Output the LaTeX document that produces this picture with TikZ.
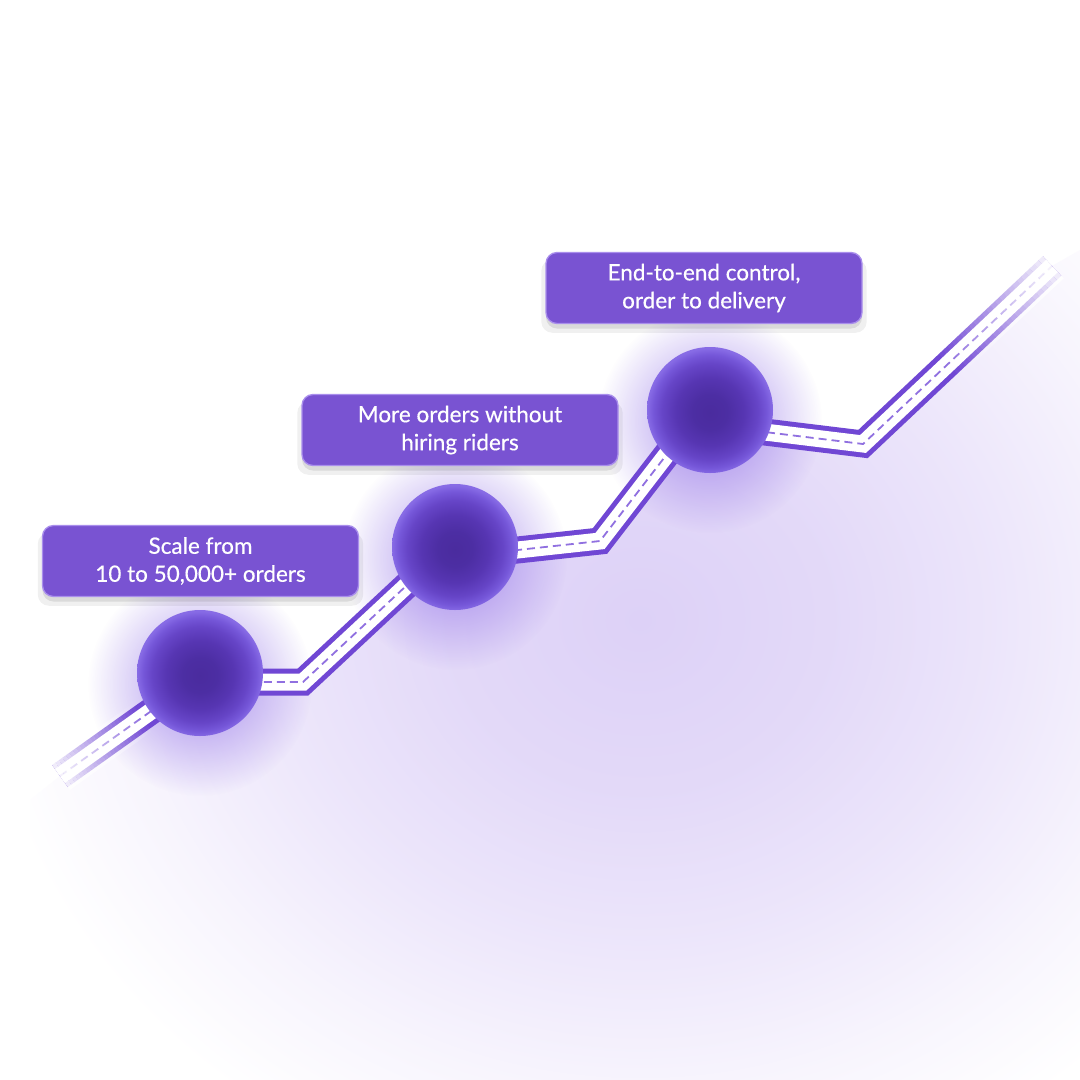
\documentclass[tikz,border=0pt]{standalone}
\usepackage{fontspec}
\setmainfont{Lato}
\newfontfamily\boxfont{Lato}[FakeBold=0.5]
\usetikzlibrary{fadings,calc,shadows}
\definecolor{boxfill}{HTML}{7953D2}
\definecolor{boxborder}{HTML}{A98EEC}
\definecolor{roadc}{HTML}{7047D4}
\definecolor{dashc}{HTML}{9070E0}
\definecolor{lav}{HTML}{DDD1F7}
\colorlet{lavA}{lav!82!white}
\colorlet{lavB}{lav!55!white}
\colorlet{lavC}{lav!22!white}
\definecolor{haloc}{HTML}{9474E8}
\pgfdeclareradialshading{ballshade}{\pgfpoint{0bp}{-1bp}}{rgb(0bp)=(0.29,0.17,0.62); rgb(7bp)=(0.30,0.18,0.64); rgb(13.5bp)=(0.34,0.21,0.70); rgb(19bp)=(0.40,0.27,0.78); rgb(22.5bp)=(0.46,0.34,0.85); rgb(25bp)=(0.53,0.42,0.90); rgb(50bp)=(0.53,0.42,0.90)}
\pgfdeclareradialshading{groundshade}{\pgfpoint{0bp}{0bp}}{color(0bp)=(lav); color(7bp)=(lavA); color(13bp)=(lavB); color(19bp)=(lavC); color(24bp)=(white); color(50bp)=(white)}
\tikzfading[name=halofade, inner color=transparent!0, outer color=transparent!100]
\tikzset{
  msg/.style={draw=boxborder, line width=1.3pt, fill=boxfill, rounded corners=11pt,
    text=white, align=center, minimum width=316pt, minimum height=71pt, inner sep=0pt,
    font=\boxfont\fontsize{22.5}{28}\selectfont,
    drop shadow={shadow xshift=0pt, shadow yshift=-8pt, opacity=.06, fill=black, shadow scale=1.03},
    drop shadow={shadow xshift=0pt, shadow yshift=-5pt, opacity=.09, fill=black, shadow scale=1.0}},
  ball/.style={circle, minimum size=126pt, inner sep=0pt, shading=ballshade},
  halo/.style={fill=haloc, opacity=.8, path fading=halofade},
  roadout/.style={draw=roadc, line width=27pt, line join=miter},
  roadin/.style={draw=white, line width=17pt, line join=miter},
  roaddash/.style={draw=dashc, line width=1.8pt, dash pattern=on 8pt off 5pt},
}
\begin{document}
\begin{tikzpicture}[x=1pt,y=-1pt]
\useasboundingbox (0,0) rectangle (1080,1080);
\fill[white] (0,0) rectangle (1080,1080);
% road coordinates
\coordinate (e0) at (60,776);
\coordinate (v1) at (192,682);
\coordinate (c1) at (303,682);
\coordinate (v2) at (435,559);
\coordinate (c2) at (600,541);
\coordinate (v3) at (691,423);
\coordinate (c3) at (863,444);
\coordinate (e1) at (1052,266);
% lavender ground glow below the road
\begin{scope}
  \clip (30,800) -- (e0) -- (v1) -- (c1) -- (v2) -- (c2) -- (v3) -- (c3) -- (e1) -- (1080,250) -- (1080,1080) -- (30,1080) -- cycle;
  \shade[shading=groundshade] (640,620) ellipse (690 and 620);
\end{scope}
% halos
\fill[halo] (200,684) circle (112);
\fill[halo] (455,558) circle (112);
\fill[halo] (710,421) circle (112);
% road
\draw[roadout] (e0) -- (v1) -- (c1) -- (v2) -- (c2) -- (v3) -- (c3) -- (e1);
\draw[roadin] (e0) -- (v1) -- (c1) -- (v2) -- (c2) -- (v3) -- (c3) -- (e1);
\draw[roaddash] (e0) -- (v1) -- (c1) -- (v2) -- (c2) -- (v3) -- (c3) -- (e1);
% fading ends
\coordinate (f0) at ($(e0)!0.62!(v1)$);
\coordinate (f1) at ($(e1)!0.55!(c3)$);
\foreach \i in {0,...,23}{
  \pgfmathsetmacro\o{0.9*(1-\i/24)}
  \draw[white, line width=34pt, opacity=\o] ($(e0)!{\i/24}!(f0)$) -- ($(e0)!{(\i+1)/24}!(f0)$);
  \draw[white, line width=34pt, opacity=\o] ($(e1)!{\i/24}!(f1)$) -- ($(e1)!{(\i+1)/24}!(f1)$);
}
% balls
\node[ball] (b1) at (200,673) {};
\node[ball] (b2) at (455,547) {};
\node[ball] (b3) at (710,410) {};
% labels
\node[msg] (t1) at (200.5,561) {Scale from\\10 to 50,000+ orders};
\node[msg] (t2) at (460,430) {More orders without\\hiring riders};
\node[msg] (t3) at (704,288) {End-to-end control,\\order to delivery};
\end{tikzpicture}
\end{document}
